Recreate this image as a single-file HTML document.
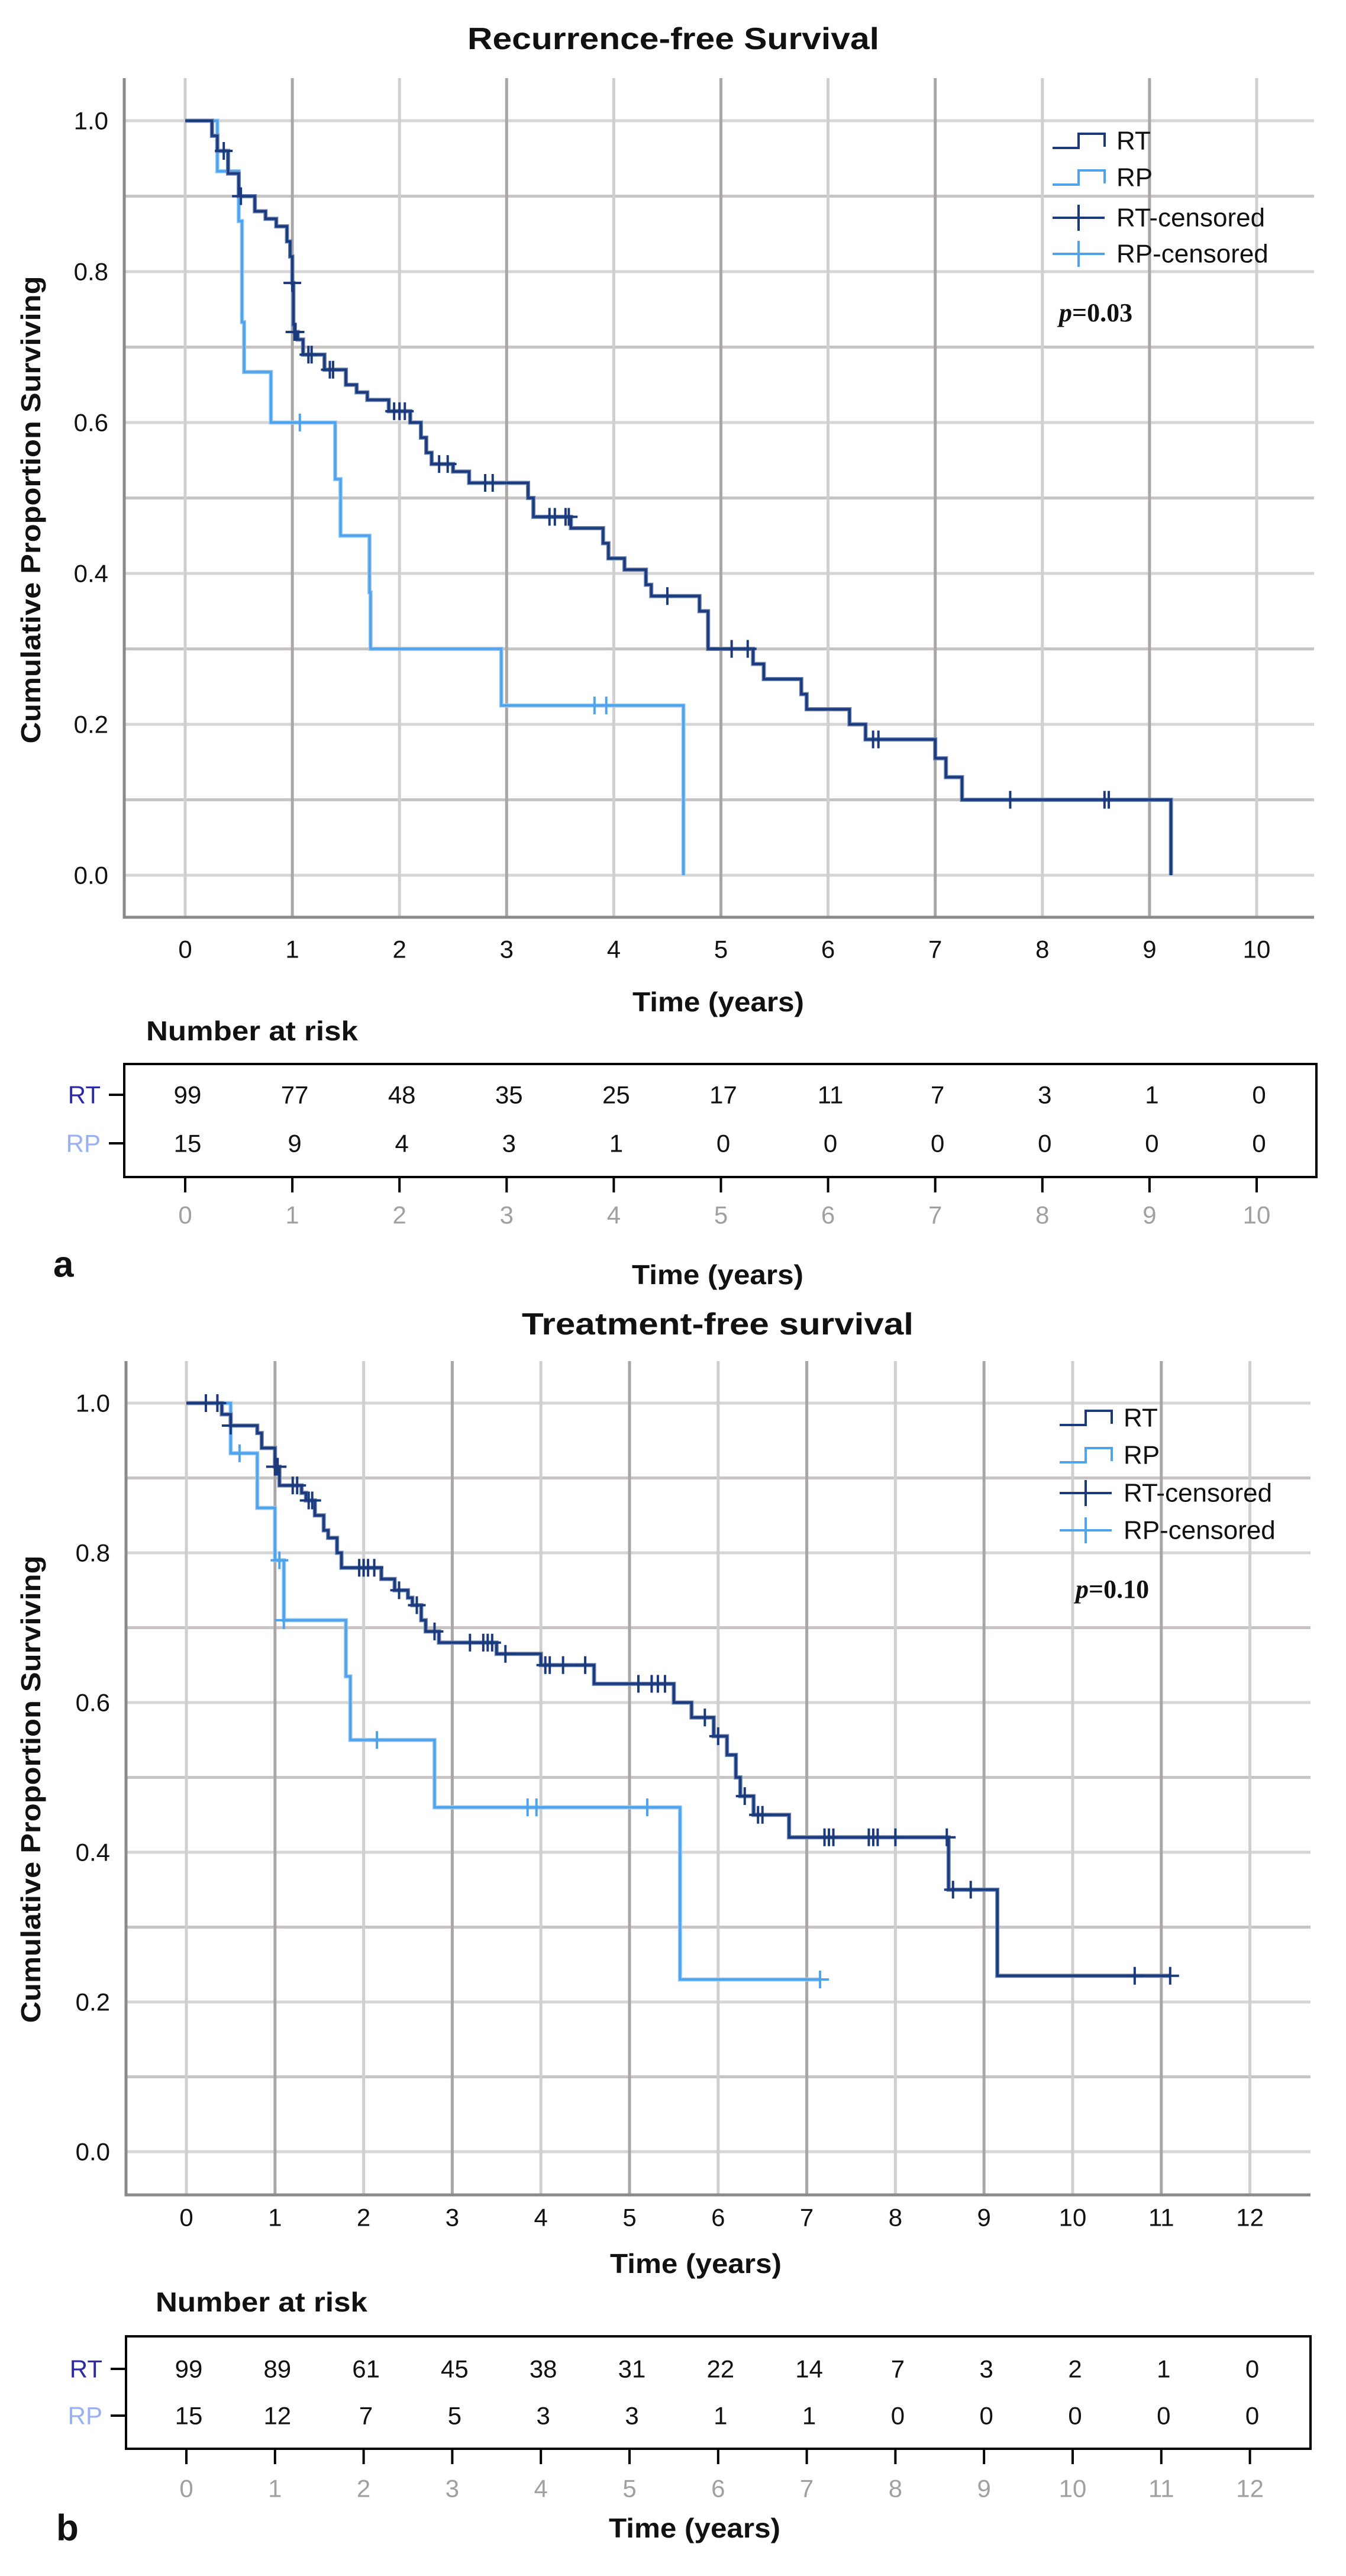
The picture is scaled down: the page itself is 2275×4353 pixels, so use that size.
<!DOCTYPE html>
<html><head><meta charset="utf-8"><title>Kaplan-Meier survival curves</title>
<style>html,body{margin:0;padding:0;background:#fff}svg{display:block}</style>
</head><body>
<svg id="fig" xmlns="http://www.w3.org/2000/svg" width="2275" height="4353" viewBox="0 0 2275 4353" font-family="'Liberation Sans', 'DejaVu Sans', sans-serif"></svg>
<script>
// ---------- Panel a: Recurrence-free survival ----------
const aRtTimes = [0.25,0.30,0.40,0.50,0.65,0.75,0.85,0.95,0.98,1.00,1.01,1.02,1.05,1.10,1.30,1.50,1.60,1.70,1.90,2.10,2.20,2.25,2.30,2.50,2.65,3.20,3.25,3.60,3.90,3.95,4.10,4.30,4.35,4.80,4.88,5.30,5.40,5.75,5.80,6.20,6.35,7.00,7.10,7.25,9.20];
const aRtSurv  = [0.98,0.96,0.93,0.90,0.88,0.87,0.86,0.84,0.82,0.785,0.73,0.72,0.71,0.69,0.67,0.65,0.64,0.63,0.615,0.60,0.58,0.56,0.545,0.535,0.52,0.50,0.475,0.46,0.44,0.42,0.405,0.385,0.37,0.35,0.30,0.28,0.26,0.24,0.22,0.20,0.18,0.155,0.13,0.10,0.0];
const aRtCens  = [0.36,0.52,1.00,1.02,1.03,1.15,1.18,1.35,1.38,1.95,2.00,2.05,2.37,2.45,2.80,2.87,3.40,3.45,3.55,3.58,4.50,5.10,5.25,6.42,6.47,7.70,8.58,8.62];
const aRpTimes = [0.30,0.50,0.53,0.55,0.80,1.40,1.45,1.72,1.73,2.95,4.65];
const aRpSurv  = [0.933,0.867,0.733,0.667,0.60,0.525,0.45,0.375,0.30,0.225,0.0];
const aRpCens  = [1.07,3.82,3.93];
const aRiskTimes = [0,1,2,3,4,5,6,7,8,9,10];
const aRiskRT = [99,77,48,35,25,17,11,7,3,1,0];
const aRiskRP = [15,9,4,3,1,0,0,0,0,0,0];
const aXTicks = [0,1,2,3,4,5,6,7,8,9,10];

// ---------- Panel b: Treatment-free survival ----------
const bRtTimes = [0.40,0.50,0.80,0.85,1.00,1.05,1.30,1.35,1.45,1.55,1.60,1.70,1.75,2.20,2.35,2.50,2.55,2.65,2.70,2.85,3.50,4.00,4.60,5.50,5.70,5.95,6.10,6.20,6.25,6.40,6.80,8.60,9.15];
const bRtSurv  = [0.985,0.97,0.96,0.94,0.915,0.89,0.88,0.87,0.85,0.83,0.82,0.80,0.78,0.765,0.75,0.74,0.73,0.71,0.695,0.68,0.665,0.65,0.625,0.60,0.58,0.555,0.53,0.50,0.475,0.45,0.42,0.35,0.235];
const bRtCens  = [0.22,0.35,0.50,1.00,1.03,1.02,1.20,1.25,1.38,1.42,1.95,2.00,2.05,2.12,2.40,2.60,2.80,3.20,3.35,3.40,3.45,3.60,4.05,4.10,4.25,4.50,5.10,5.25,5.32,5.40,5.85,6.00,6.30,6.45,6.50,7.20,7.25,7.30,7.70,7.75,7.80,8.00,8.58,8.65,8.85,10.70,11.10];
const bRpTimes = [0.50,0.80,1.00,1.10,1.80,1.85,2.80,5.57];
const bRpSurv  = [0.933,0.86,0.79,0.71,0.635,0.55,0.46,0.23];
const bRpCens  = [0.60,1.05,1.10,2.15,3.85,3.95,5.20,7.15];
const bRiskTimes = [0,1,2,3,4,5,6,7,8,9,10,11,12];
const bRiskRT = [99,89,61,45,38,31,22,14,7,3,2,1,0];
const bRiskRP = [15,12,7,5,3,3,1,1,0,0,0,0,0];
const bXTicks = [0,1,2,3,4,5,6,7,8,9,10,11,12];

const yTicks = [0.0,0.2,0.4,0.6,0.8,1.0];
const yGrid = [0.0,0.1,0.2,0.3,0.4,0.5,0.6,0.7,0.8,0.9,1.0];

const NS = "http://www.w3.org/2000/svg";
const svg = document.getElementById('fig');
const RT_COL = "#1b3a7c", RT_EDGE = "#6a82b2", RP_COL = "#4ea3ec", RP_EDGE = "#9ccaf3";

function mk(tag, attrs, parent, text){
  const e = document.createElementNS(NS, tag);
  for (const k in attrs) e.setAttribute(k, attrs[k]);
  if (text !== undefined) e.textContent = text;
  (parent || svg).appendChild(e);
  return e;
}
function survAt(times, surv, t){
  let s = 1;
  for (let i = 0; i < times.length; i++){ if (times[i] <= t) s = surv[i]; }
  return s;
}

function panel(c){
  const g = mk('g', {});
  
  
  const X = t => c.x0 + t * c.xs;
  const Y = s => c.y1 - s * (c.y1 - c.y0);

  const title = mk('text', {x: c.titleX, y: c.titleY, 'text-anchor':'middle', 'dominant-baseline':'central', 'font-size':52, 'font-weight':'bold', fill:'#111', textLength:c.titleW, lengthAdjust:'spacingAndGlyphs'}, g, c.title);
  
  

  const grid = mk('g', {}, g);
  
  
  yGrid.forEach((v, i) => {
    const major = Math.round(v*10) % 2 === 1;
    const l = mk('line', {x1:c.left, x2:c.right, y1:Y(v), y2:Y(v), stroke: major ? '#c9c4c4' : '#d6d6d6', 'stroke-width':5}, grid);
    
    
  });
  c.xTicks.forEach(t => {
    const l = mk('line', {x1:X(t), x2:X(t), y1:c.top, y2:c.bottom, stroke: t % 2 === 1 ? '#aba6a6' : '#cfcfcf', 'stroke-width':5}, grid);
    
    
  });
  const ax = mk('path', {d:`M${c.left},${c.top} V${c.bottom} H${c.right}`, fill:'none', stroke:'#8a8a8a', 'stroke-width':5}, g);
  
  

  yTicks.forEach(v => {
    const t = mk('text', {x:c.left-27, y:Y(v), 'text-anchor':'end', 'dominant-baseline':'central', 'font-size':42, fill:'#111'}, g, v.toFixed(1));
    
    
  });
  c.xTicks.forEach(v => {
    const t = mk('text', {x:X(v), y:c.xLabY, 'text-anchor':'middle', 'dominant-baseline':'central', 'font-size':42, fill:'#111'}, g, String(v));
    
    
  });
  const yt = mk('text', {x:0, y:0, transform:`translate(52,${(Y(1)+Y(0))/2+20}) rotate(-90)`, 'text-anchor':'middle', 'dominant-baseline':'central', 'font-size':46, 'font-weight':'bold', fill:'#111', textLength:790, lengthAdjust:'spacingAndGlyphs'}, g, 'Cumulative Proportion Surviving');
  
  
  const xt = mk('text', {x:c.xTitleX, y:c.xTitleY, 'text-anchor':'middle', 'dominant-baseline':'central', 'font-size':46, 'font-weight':'bold', fill:'#111', textLength:290, lengthAdjust:'spacingAndGlyphs'}, g, 'Time (years)');
  
  

  function curve(times, surv, cens, endT, col, edge, nm){
    const cg = mk('g', {}, g);
    
    
    let d = `M${X(0)},${Y(1)}`;
    for (let i = 0; i < times.length; i++){ d += ` H${X(times[i])} V${Y(surv[i])}`; }
    if (endT !== null) d += ` H${X(endT)}`;
    const under = mk('path', {d, fill:'none', stroke:edge, 'stroke-width':7, 'stroke-linejoin':'miter'}, cg);
    
    
    const p = mk('path', {d, fill:'none', stroke:col, 'stroke-width':4, 'stroke-linejoin':'miter'}, cg);
    
    
    cens.forEach(t => {
      const cx = X(t), cy = Y(survAt(times, surv, t));
      const m = mk('path', {d:`M${cx-15},${cy} H${cx+15} M${cx},${cy-15} V${cy+15}`, stroke:col, 'stroke-width':4}, cg);
      
      
    });
  }
  curve(c.rpT, c.rpS, c.rpC, c.rpEnd, RP_COL, RP_EDGE, 'rp');
  curve(c.rtT, c.rtS, c.rtC, c.rtEnd, RT_COL, RT_EDGE, 'rt');

  const lg = mk('g', {}, g);
  
  
  const lx0 = c.legX, lx1 = c.legX + 88, lxm = c.legX + 44;
  const entries = [['RT', RT_COL, 'step'], ['RP', RP_COL, 'step'], ['RT-censored', RT_COL, 'cross'], ['RP-censored', RP_COL, 'cross']];
  entries.forEach((e, i) => {
    const y = c.legY[i];
    const eg = mk('g', {}, lg);
    
    
    let d;
    if (e[2] === 'step') d = `M${lx0},${y+12} H${lxm} V${y-12} H${lx1} V${y+10}`;
    else d = `M${lx0},${y} H${lx1} M${lxm},${y-22} V${y+22}`;
    mk('path', {d, fill:'none', stroke:e[1], 'stroke-width':4}, eg);
    mk('text', {x:c.legX+108, y:y, 'dominant-baseline':'central', 'font-size':44, fill:'#111'}, eg, e[0]);
  });
  const pt = mk('text', {x:c.pX, y:c.pY, 'dominant-baseline':'central', 'font-size':44, 'font-weight':'bold', fill:'#111', 'font-family':"'Liberation Serif', serif"}, g);
  
  
  mk('tspan', {'font-style':'italic'}, pt, 'p');
  mk('tspan', {}, pt, '=' + c.pVal);

  const nr = mk('text', {x:c.nrX, y:c.nrY, 'dominant-baseline':'central', 'font-size':46, 'font-weight':'bold', fill:'#111', textLength:358, lengthAdjust:'spacingAndGlyphs'}, g, 'Number at risk');
  
  
  const tb = mk('g', {}, g);
  
  
  mk('rect', {x:c.left, y:c.tTop, width:c.tRight-c.left, height:c.tBot-c.tTop, fill:'none', stroke:'#000', 'stroke-width':4}, tb);
  [['RT', c.rowRT, '#2b2ba8'], ['RP', c.rowRP, '#99b0f2']].forEach(r => {
    const l = mk('text', {x:c.left-40, y:r[1], 'text-anchor':'end', 'dominant-baseline':'central', 'font-size':42, fill:r[2]}, tb, r[0]);
    
    
    mk('line', {x1:c.left-26, x2:c.left, y1:r[1], y2:r[1], stroke:'#000', 'stroke-width':4}, tb);
  });
  c.riskT.forEach((t, i) => {
    const a = mk('text', {x:X(t)+4, y:c.rowRT, 'text-anchor':'middle', 'dominant-baseline':'central', 'font-size':42, fill:'#111'}, tb, String(c.riskRT[i]));
    
    
    const b = mk('text', {x:X(t)+4, y:c.rowRP, 'text-anchor':'middle', 'dominant-baseline':'central', 'font-size':42, fill:'#111'}, tb, String(c.riskRP[i]));
    
    
    mk('line', {x1:X(t), x2:X(t), y1:c.tBot, y2:c.tBot+26, stroke:'#000', 'stroke-width':4}, tb);
    const l = mk('text', {x:X(t), y:c.tLabY, 'text-anchor':'middle', 'dominant-baseline':'central', 'font-size':42, fill:'#a0a0a0'}, tb, String(t));
    
    
  });
  const xt2 = mk('text', {x:c.xTitle2X, y:c.xTitle2Y, 'text-anchor':'middle', 'dominant-baseline':'central', 'font-size':46, 'font-weight':'bold', fill:'#111', textLength:290, lengthAdjust:'spacingAndGlyphs'}, g, 'Time (years)');
  
  
  const pl = mk('text', {x:c.letX, y:c.letY, 'dominant-baseline':'central', 'font-size':62, 'font-weight':'bold', fill:'#111'}, g, c.letter);
  
  
}

panel({name:'panel-a-recurrence-free', title:'Recurrence-free Survival', titleX:1138, titleY:66, titleW:696,
  left:210, right:2221, top:132, bottom:1550, x0:313, xs:181.1, y0:204, y1:1479,
  xTicks:aXTicks, xLabY:1604, xTitleX:1214, xTitleY:1693,
  rtT:aRtTimes, rtS:aRtSurv, rtC:aRtCens, rtEnd:null,
  rpT:aRpTimes, rpS:aRpSurv, rpC:aRpCens, rpEnd:null,
  legX:1779, legY:[238,300,368,429], pX:1790, pY:528, pVal:'0.03',
  nrX:247, nrY:1742, tTop:1798, tBot:1989, tRight:2225, rowRT:1850, rowRP:1932, tLabY:2053,
  riskT:aRiskTimes, riskRT:aRiskRT, riskRP:aRiskRP,
  xTitle2X:1213, xTitle2Y:2154, letter:'a', letX:90, letY:2137});

panel({name:'panel-b-treatment-free', title:'Treatment-free survival', titleX:1213, titleY:2238, titleW:662,
  left:213, right:2215, top:2300, bottom:3709, x0:315, xs:149.8, y0:2371, y1:3636,
  xTicks:bXTicks, xLabY:3747, xTitleX:1176, xTitleY:3825,
  rtT:bRtTimes, rtS:bRtSurv, rtC:bRtCens, rtEnd:11.1,
  rpT:bRpTimes, rpS:bRpSurv, rpC:bRpCens, rpEnd:7.15,
  legX:1791, legY:[2396,2459,2523,2586], pX:1818, pY:2685, pVal:'0.10',
  nrX:263, nrY:3890, tTop:3948, tBot:4138, tRight:2215, rowRT:4003, rowRP:4082, tLabY:4205,
  riskT:bRiskTimes, riskRT:bRiskRT, riskRP:bRiskRP,
  xTitle2X:1174, xTitle2Y:4272, letter:'b', letX:95, letY:4272});
</script>
</body></html>
